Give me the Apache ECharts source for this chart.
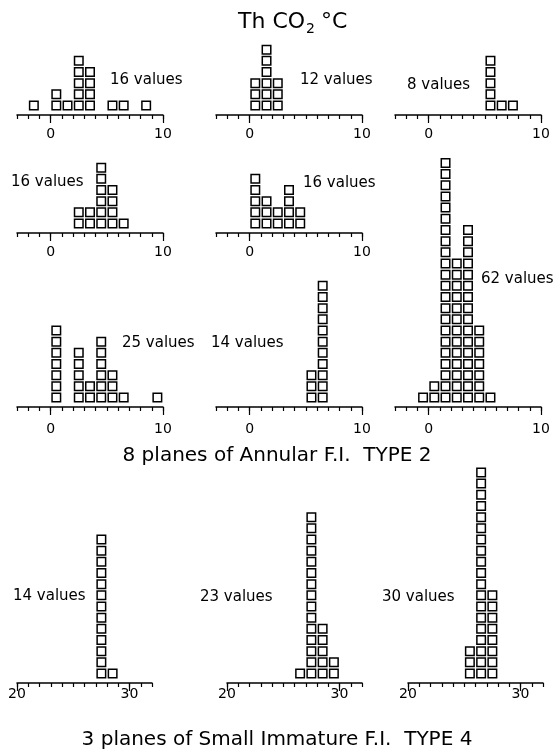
<!DOCTYPE html>
<html>
<head>
<meta charset="utf-8">
<script src="https://cdn.jsdelivr.net/npm/echarts@6/dist/echarts.min.js"></script>
<style>
html,body{margin:0;padding:0;background:#fff;}
#chart{width:554px;height:755px;}
</style>
</head>
<body>
<div id="chart"></div>
<script>
// ---- Data (bin centres in °C and number of values per bin) ----
const binsA1 = [-1.5, 0.5, 1.5, 2.5, 3.5, 5.5, 6.5, 8.5];
const countsA1 = [1, 2, 1, 5, 4, 1, 1, 1];
const binsA2 = [0.5, 1.5, 2.5];
const countsA2 = [3, 6, 3];
const binsA3 = [5.5, 6.5, 7.5];
const countsA3 = [5, 1, 1];
const binsA4 = [2.5, 3.5, 4.5, 5.5, 6.5];
const countsA4 = [2, 2, 6, 4, 1];
const binsA5 = [0.5, 1.5, 2.5, 3.5, 4.5];
const countsA5 = [5, 3, 2, 4, 2];
const binsA6 = [0.5, 2.5, 3.5, 4.5, 5.5, 6.5, 9.5];
const countsA6 = [7, 5, 2, 6, 3, 1, 1];
const binsA7 = [5.5, 6.5];
const countsA7 = [3, 11];
const binsA8 = [-0.5, 0.5, 1.5, 2.5, 3.5, 4.5, 5.5];
const countsA8 = [1, 2, 22, 13, 16, 7, 1];
const binsB1 = [27.5, 28.5];
const countsB1 = [13, 1];
const binsB2 = [26.5, 27.5, 28.5, 29.5];
const countsB2 = [1, 15, 5, 2];
const binsB3 = [25.5, 26.5, 27.5];
const countsB3 = [3, 19, 8];

const valueLabels = ['16 values','12 values','8 values','16 values','16 values','25 values','14 values','62 values','14 values','23 values','30 values'];
const rangeA = [-3, 10];
const rangeB = [20, 32];
const ticksA = [0, 10];
const ticksB = [20, 30];

const titleMain = 'Th CO';
const titleSub = '2';
const titleUnit = '°C';
const titleA = '8 planes of Annular F.I.  TYPE 2';
const titleB = '3 planes of Small Immature F.I.  TYPE 4';

// ---- Layout ----
const FONT = 'DejaVu Sans';
const PITCH = 11.17;
const YMIN = -0.35;
const panels = [
  {bins: binsA1, counts: countsA1, range: rangeA, ticks: ticksA, left: 17,  width: 146, axisY: 115, lx: 110, ly: 80,  margin: 12},
  {bins: binsA2, counts: countsA2, range: rangeA, ticks: ticksA, left: 216, width: 146, axisY: 115, lx: 300, ly: 80,  margin: 12},
  {bins: binsA3, counts: countsA3, range: rangeA, ticks: ticksA, left: 395, width: 146, axisY: 115, lx: 407, ly: 85,  margin: 12},
  {bins: binsA4, counts: countsA4, range: rangeA, ticks: ticksA, left: 17,  width: 146, axisY: 233, lx: 11,  ly: 182, margin: 12},
  {bins: binsA5, counts: countsA5, range: rangeA, ticks: ticksA, left: 216, width: 146, axisY: 233, lx: 303, ly: 183, margin: 12},
  {bins: binsA6, counts: countsA6, range: rangeA, ticks: ticksA, left: 17,  width: 146, axisY: 407, lx: 122, ly: 343, margin: 15},
  {bins: binsA7, counts: countsA7, range: rangeA, ticks: ticksA, left: 216, width: 146, axisY: 407, lx: 211, ly: 343, margin: 15},
  {bins: binsA8, counts: countsA8, range: rangeA, ticks: ticksA, left: 395, width: 146, axisY: 407, lx: 481, ly: 279, margin: 15},
  {bins: binsB1, counts: countsB1, range: rangeB, ticks: ticksB, left: 17,  width: 135, axisY: 683, lx: 13,  ly: 596, margin: 4},
  {bins: binsB2, counts: countsB2, range: rangeB, ticks: ticksB, left: 227, width: 135, axisY: 683, lx: 200, ly: 597, margin: 4},
  {bins: binsB3, counts: countsB3, range: rangeB, ticks: ticksB, left: 408, width: 135, axisY: 683, lx: 382, ly: 597, margin: 4}
];

const grids = [], xAxes = [], yAxes = [], series = [], graphics = [];
panels.forEach((p, i) => {
  const ymax = Math.max.apply(null, p.counts) + 0.6;
  const h = (ymax - YMIN) * PITCH;
  grids.push({left: p.left, top: p.axisY - h, width: p.width, height: h, containLabel: false, outerBoundsMode: 'none'});
  // minor ticks every 1 °C + axis line
  xAxes.push({
    gridIndex: i, type: 'value', position: 'bottom', min: p.range[0], max: p.range[1], interval: 1,
    axisLine: {show: true, onZero: false, lineStyle: {color: '#000', width: 1.5}},
    axisTick: {show: true, length: 4, lineStyle: {color: '#000', width: 1.2}},
    axisLabel: {show: false}, splitLine: {show: false}
  });
  // major ticks and labels
  xAxes.push({
    gridIndex: i, type: 'value', position: 'bottom', min: p.range[0], max: p.range[1],
    axisLine: {show: false, onZero: false},
    axisTick: {show: true, length: 8, customValues: p.ticks, lineStyle: {color: '#000', width: 1.2}},
    axisLabel: {show: true, customValues: p.ticks, margin: p.margin, color: '#000', fontSize: 14, fontFamily: FONT},
    splitLine: {show: false}
  });
  yAxes.push({gridIndex: i, type: 'value', min: YMIN, max: ymax, show: false, splitLine: {show: false}});
  const pts = [];
  p.bins.forEach((b, j) => {
    for (let k = 1; k <= p.counts[j]; k++) pts.push([b, k - 0.5]);
  });
  series.push({
    type: 'scatter', xAxisIndex: 2 * i, yAxisIndex: i, data: pts,
    symbol: 'rect', symbolSize: 8.5,
    itemStyle: {color: '#fff', borderColor: '#000', borderWidth: 1.5, opacity: 1},
    emphasis: {disabled: true}, silent: true
  });
  graphics.push({type: 'text', x: p.lx, y: p.ly,
    style: {text: valueLabels[i], fill: '#000', fontSize: 15, fontFamily: FONT,
      textAlign: 'left', textVerticalAlign: 'middle', align: 'left', verticalAlign: 'middle'}});
});

function title(txt, x, y, size, align) {
  return {type: 'text', x: x, y: y,
    style: {text: txt, fill: '#000', fontSize: size, fontFamily: FONT,
      textAlign: align, textVerticalAlign: 'middle', align: align, verticalAlign: 'middle'}};
}
graphics.push(title(titleMain, 238, 22, 22, 'left'));
graphics.push(title(titleSub, 306, 29, 14, 'left'));
graphics.push(title(titleUnit, 321, 22, 22, 'left'));
graphics.push(title(titleA, 277, 456, 20, 'center'));
graphics.push(title(titleB, 277, 740, 20, 'center'));

const chart = echarts.init(document.getElementById('chart'), null, {renderer: 'canvas'});
chart.setOption({
  animation: false,
  backgroundColor: '#fff',
  grid: grids, xAxis: xAxes, yAxis: yAxes, series: series,
  graphic: graphics
});
</script>
</body>
</html>
